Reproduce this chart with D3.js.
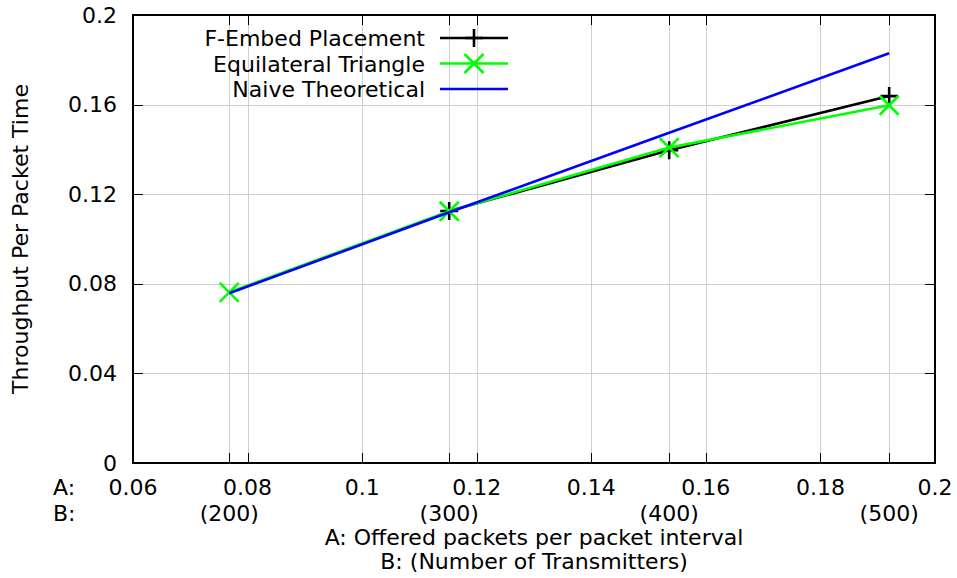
<!DOCTYPE html>
<html>
<head>
<meta charset="utf-8">
<script src="https://cdn.jsdelivr.net/npm/d3@7/dist/d3.min.js"></script>
<style>
  html, body { margin: 0; padding: 0; background: #fff; }
  svg { display: block; font-family: "DejaVu Sans", sans-serif; }
</style>
</head>
<body>
<svg id="chart" width="957" height="578"></svg>
<script>
// Offered load (A) and the matching transmitter counts (B)
const transmitters = [200, 300, 400, 500];
const offeredLoad = [0.0768, 0.1152, 0.1536, 0.192];

// Throughput per packet time for each configuration
const fEmbed = [null, 0.1125, 0.1396, 0.1638];
const equilateral = [0.0762, 0.1124, 0.1408, 0.1597];
const naive = [0.0758, 0.1119, 0.1474, 0.1829];

// Axis ticks
const xTicks = [0.06, 0.08, 0.1, 0.12, 0.14, 0.16, 0.18, 0.2];
const xTickLabels = ["0.06", "0.08", "0.1", "0.12", "0.14", "0.16", "0.18", "0.2"];
const yTicks = [0, 0.04, 0.08, 0.12, 0.16, 0.2];
const yTickLabels = ["0", "0.04", "0.08", "0.12", "0.16", "0.2"];
const bTickLabels = transmitters.map(n => "(" + n + ")");

const seriesNames = ["F-Embed Placement", "Equilateral Triangle", "Naive Theoretical"];

const W = 957, H = 578;
const m = { left: 133, right: 22, top: 15, bottom: 115 };
const x = d3.scaleLinear().domain([0.06, 0.2]).range([m.left, W - m.right]);
const y = d3.scaleLinear().domain([0, 0.2]).range([H - m.bottom, m.top]);

const svg = d3.select("#chart");
const FS = 20.5;
const STRETCH = 1.075;   // glyphs are set slightly wide
const gridColor = "#cfcfcf";

function addText(g, tx, ty, str, anchor, rot) {
  return g.append("text")
    .attr("transform", `translate(${tx},${ty})${rot ? ` rotate(${rot})` : ""} scale(${STRETCH},1)`)
    .attr("text-anchor", anchor || "start")
    .attr("font-size", FS).attr("fill", "#000")
    .text(str);
}

// Grid lines
const grid = svg.append("g");
xTicks.concat(offeredLoad).forEach(v => {
  if (v <= 0.06 || v >= 0.2) return;
  grid.append("line")
    .attr("x1", Math.round(x(v)) + 0.5).attr("x2", Math.round(x(v)) + 0.5)
    .attr("y1", y(0)).attr("y2", y(0.2))
    .attr("stroke", gridColor).attr("stroke-width", 1);
});
yTicks.forEach(v => {
  if (v <= 0 || v >= 0.2) return;
  grid.append("line")
    .attr("x1", x(0.06)).attr("x2", x(0.2))
    .attr("y1", Math.round(y(v)) + 0.5).attr("y2", Math.round(y(v)) + 0.5)
    .attr("stroke", gridColor).attr("stroke-width", 1);
});

// Inward tick marks on all four sides
const TL = 10;
const ticks = svg.append("g").attr("stroke", "#000").attr("stroke-width", 1);
xTicks.concat(offeredLoad).forEach(v => {
  const px = Math.round(x(v)) + 0.5;
  ticks.append("line").attr("x1", px).attr("x2", px).attr("y1", y(0)).attr("y2", y(0) - TL);
  ticks.append("line").attr("x1", px).attr("x2", px).attr("y1", y(0.2)).attr("y2", y(0.2) + TL);
});
yTicks.forEach(v => {
  const py = Math.round(y(v)) + 0.5;
  ticks.append("line").attr("x1", x(0.06)).attr("x2", x(0.06) + TL).attr("y1", py).attr("y2", py);
  ticks.append("line").attr("x1", x(0.2)).attr("x2", x(0.2) - TL).attr("y1", py).attr("y2", py);
});

// Series lines and markers
const line = d3.line()
  .defined(d => d[1] != null)
  .x(d => x(d[0])).y(d => y(d[1]));

const plusPath = (cx, cy, r) => `M${cx - r},${cy}H${cx + r}M${cx},${cy - r}V${cy + r}`;
const crossPath = (cx, cy, r) => `M${cx - r},${cy - r}L${cx + r},${cy + r}M${cx - r},${cy + r}L${cx + r},${cy - r}`;

const series = [
  { name: seriesNames[0], values: fEmbed, color: "#000000", marker: plusPath, r: 9 },
  { name: seriesNames[1], values: equilateral, color: "#00ff00", marker: crossPath, r: 9.5 },
  { name: seriesNames[2], values: naive, color: "#0000ff", marker: null, r: 0 }
];
const LW = 2.6;

const plot = svg.append("g");
series.forEach(s => {
  const pts = offeredLoad.map((v, i) => [v, s.values[i]]);
  plot.append("path")
    .attr("d", line(pts))
    .attr("fill", "none").attr("stroke", s.color).attr("stroke-width", LW);
  if (s.marker) {
    pts.filter(p => p[1] != null).forEach(p => {
      plot.append("path")
        .attr("d", s.marker(x(p[0]), y(p[1]), s.r))
        .attr("fill", "none").attr("stroke", s.color).attr("stroke-width", LW);
    });
  }
});

// Border
svg.append("rect")
  .attr("x", x(0.06)).attr("y", y(0.2))
  .attr("width", x(0.2) - x(0.06)).attr("height", y(0) - y(0.2))
  .attr("fill", "none").attr("stroke", "#000").attr("stroke-width", 2);

// Tick labels
const labels = svg.append("g");
xTicks.forEach((v, i) => addText(labels, x(v), 495, xTickLabels[i], "middle"));
offeredLoad.forEach((v, i) => addText(labels, x(v), 520.5, bTickLabels[i], "middle"));
addText(labels, 53, 495, "A:");
addText(labels, 53, 520.5, "B:");
yTicks.forEach((v, i) => addText(labels, 117, y(v) + 7.5, yTickLabels[i], "end"));

// Axis titles
const cx = (x(0.06) + x(0.2)) / 2;
addText(labels, cx, 544.5, "A: Offered packets per packet interval", "middle");
addText(labels, cx, 568.5, "B: (Number of Transmitters)", "middle");
addText(labels, 28, (y(0) + y(0.2)) / 2, "Throughput Per Packet Time", "middle", -90);

// Legend
const legend = svg.append("g");
series.forEach((s, i) => {
  const ly = 38 + i * 25.5;
  addText(legend, 425, ly + 8, s.name, "end");
  legend.append("line").attr("x1", 440).attr("x2", 508).attr("y1", ly).attr("y2", ly)
    .attr("stroke", s.color).attr("stroke-width", LW);
  if (s.marker) {
    legend.append("path").attr("d", s.marker(474, ly, s.r))
      .attr("fill", "none").attr("stroke", s.color).attr("stroke-width", LW);
  }
});
</script>
</body>
</html>
